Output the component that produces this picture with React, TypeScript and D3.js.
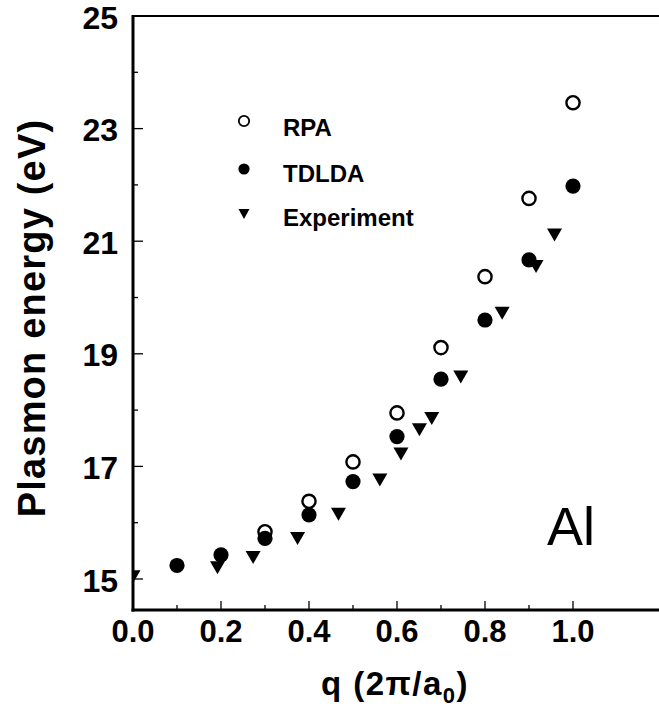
import React from "react";
import * as d3 from "d3";

const rpaQ = [0.3, 0.4, 0.5, 0.6, 0.7, 0.8, 0.9, 1.0];
const rpaE = [15.84, 16.38, 17.08, 17.95, 19.11, 20.37, 21.76, 23.46];

const tdldaQ = [0.1, 0.2, 0.3, 0.4, 0.5, 0.6, 0.7, 0.8, 0.9, 1.0];
const tdldaE = [15.24, 15.43, 15.72, 16.14, 16.73, 17.53, 18.55, 19.6, 20.67, 21.98];

const expQ = [0.0, 0.192, 0.273, 0.374, 0.467, 0.561, 0.609, 0.651, 0.679, 0.745, 0.839, 0.916, 0.958];
const expE = [15.04, 15.2, 15.38, 15.72, 16.15, 16.76, 17.22, 17.65, 17.85, 18.59, 19.72, 20.55, 21.11];

const yTickLabels = [15, 17, 19, 21, 23, 25];
const yTicksAll = [15, 16, 17, 18, 19, 20, 21, 22, 23, 24, 25];
const xTickLabels = ["0.0", "0.2", "0.4", "0.6", "0.8", "1.0"];
const xTicksAll = [0, 0.1, 0.2, 0.3, 0.4, 0.5, 0.6, 0.7, 0.8, 0.9, 1.0];

const legendItems = ["RPA", "TDLDA", "Experiment"];

const W = 659;
const H = 710;
const FONT = "'Liberation Sans', Arial, Helvetica, sans-serif";

function tri(cx: number, cy: number, w: number, h: number) {
  const p = d3.path();
  p.moveTo(cx - w / 2, cy - h / 2);
  p.lineTo(cx + w / 2, cy - h / 2);
  p.lineTo(cx, cy + h / 2);
  p.closePath();
  return p.toString();
}

export default function App() {
  const x = d3.scaleLinear().domain([0, 1]).range([133, 573]);
  const y = d3.scaleLinear().domain([15, 25]).range([579, 16]);
  const left = 133;
  const top = 16;
  const bottom = 610;

  return (
    <svg
      width={W}
      height={H}
      style={{ position: "absolute", left: 0, top: 0, background: "#fff" }}
      fontFamily={FONT}
    >
      <defs>
        <clipPath id="plot">
          <rect x={left} y={top} width={W - left} height={bottom - top} />
        </clipPath>
      </defs>
      <rect x={0} y={0} width={W} height={H} fill="#fff" />

      {/* data */}
      <g clipPath="url(#plot)">
        {rpaQ.map((q, i) => (
          <circle key={"r" + i} cx={x(q)} cy={y(rpaE[i])} r={6.6} fill="#fff" stroke="#000" strokeWidth={2.4} />
        ))}
        {tdldaQ.map((q, i) => (
          <circle key={"t" + i} cx={x(q)} cy={y(tdldaE[i])} r={7.6} fill="#000" />
        ))}
        {expQ.map((q, i) => (
          <path key={"e" + i} d={tri(x(q), y(expE[i]), 15, 13)} fill="#000" />
        ))}
      </g>

      {/* axes */}
      <line x1={left} y1={top} x2={W} y2={top} stroke="#000" strokeWidth={2.2} />
      <line x1={left} y1={top - 1} x2={left} y2={bottom + 1.5} stroke="#000" strokeWidth={3} />
      <line x1={left - 1.5} y1={bottom} x2={W} y2={bottom} stroke="#000" strokeWidth={3} />

      {yTicksAll.map((v) => {
        const major = yTickLabels.includes(v);
        return (
          <line key={"yt" + v} x1={left} x2={left + (major ? 10 : 5)} y1={y(v)} y2={y(v)} stroke="#000" strokeWidth={1.3} />
        );
      })}
      {yTickLabels.map((v) => (
        <text
          key={"yl" + v}
          x={118}
          y={y(v) + 12.5}
          textAnchor="end"
          fontSize={32}
          fontWeight="bold"
        >
          {v}
        </text>
      ))}

      {xTicksAll.map((v, i) => {
        const major = i % 2 === 0;
        return (
          <line key={"xt" + i} x1={x(v)} x2={x(v)} y1={bottom} y2={bottom - (major ? 9 : 5)} stroke="#000" strokeWidth={1.3} />
        );
      })}
      {xTickLabels.map((s) => (
        <text key={"xl" + s} x={x(+s)} y={642} textAnchor="middle" fontSize={31} fontWeight="bold">
          {s}
        </text>
      ))}

      {/* axis titles */}
      <text x={395} y={695} textAnchor="middle" fontSize={33} fontWeight="bold" letterSpacing={1.5}>
        q (2π/a
        <tspan fontSize={22} dy={8}>0</tspan>
        <tspan dy={-8}>)</tspan>
      </text>
      <text
        transform="translate(45,318) rotate(-90)"
        textAnchor="middle"
        fontSize={38}
        fontWeight="bold"
        letterSpacing={1.2}
      >
        Plasmon energy (eV)
      </text>

      {/* legend */}
      {legendItems.map((name, i) => {
        const my = [121, 169, 214][i];
        const ty = [136, 182, 226][i];
        return (
          <g key={name}>
            {i === 0 && <circle cx={244} cy={my} r={5.2} fill="#fff" stroke="#000" strokeWidth={1.8} />}
            {i === 1 && <circle cx={244} cy={my} r={5.6} fill="#000" />}
            {i === 2 && <path d={tri(244, my, 11, 10)} fill="#000" />}
            <text x={283} y={ty} fontSize={24} fontWeight="bold">
              {name}
            </text>
          </g>
        );
      })}

      <text x={547} y={545} fontSize={54}>
        Al
      </text>
    </svg>
  );
}
